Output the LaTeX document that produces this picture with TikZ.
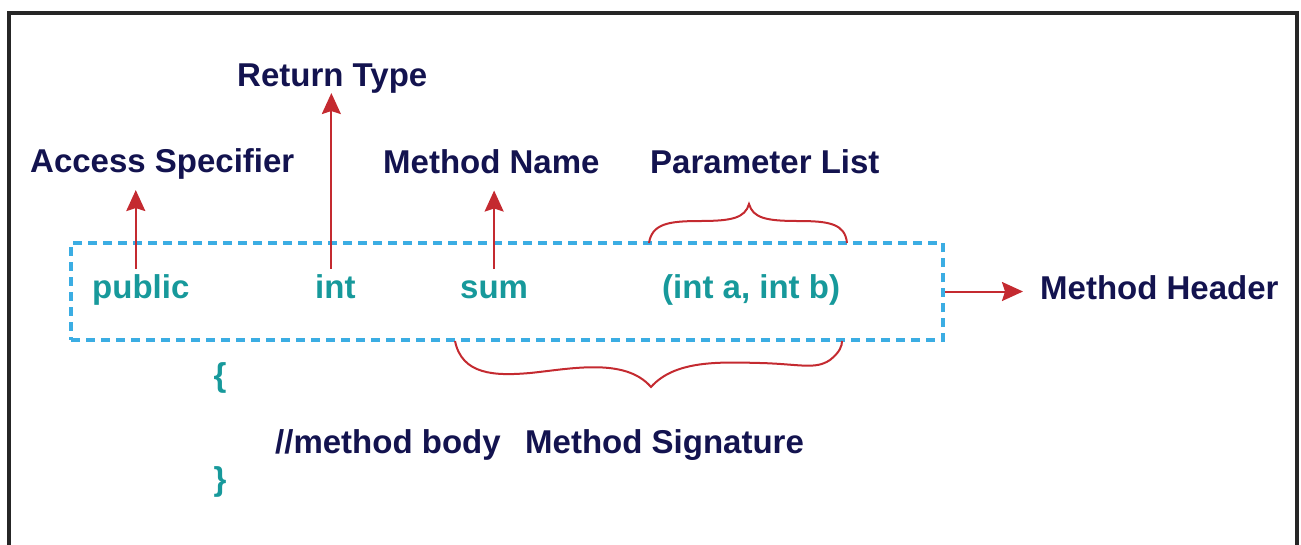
\documentclass[tikz,border=0pt]{standalone}
\usepackage{fontspec}
\setmainfont{Liberation Sans}
\usetikzlibrary{arrows.meta,calc}
\definecolor{navy}{HTML}{13134F}
\definecolor{tealc}{HTML}{17999B}
\definecolor{redc}{HTML}{C42A30}
\definecolor{dashblue}{HTML}{3BADE3}
\tikzset{
  lbl/.style={inner sep=0pt, anchor=base west, text=navy, font=\fontsize{33}{36}\selectfont\bfseries},
  code/.style={inner sep=0pt, anchor=base west, text=tealc, font=\fontsize{33}{36}\selectfont\bfseries},
  arr/.style={draw=redc, line width=2pt, -{Stealth[length=21pt,width=19pt,inset=3pt]}},
  bracec/.style={draw=redc, line width=2pt},
}
\begin{document}
\begin{tikzpicture}[x=1pt,y=-1pt]
\useasboundingbox (0,0) rectangle (1301,544);
% outer frame
\draw[line width=4pt, black!85] (9,546) -- (9,13) -- (1297,13) -- (1297,546);
% dashed header box
\node[draw=dashblue, line width=4pt, dash pattern=on 9pt off 6pt, minimum width=872pt, minimum height=97pt, inner sep=0pt] (box) at (507,291.5) {};
% code texts
\node[code] (pub) at (92,298) {public};
\node[code] (int) at (315,298) {int};
\node[code] (sum) at (460,298) {sum};
\node[code] (par) at (662,298) {(int a, int b)};
\node[code, anchor=center] (lb) at (220,378) {\{};
\node[code, anchor=center] (rb) at (220,482) {\}};
% labels
\node[lbl] (ret) at (237,86) {Return Type};
\node[lbl] (acc) at (30,172) {Access Specifier};
\node[lbl] (mn) at (383,173) {Method Name};
\node[lbl] (pl) at (650,173) {Parameter List};
\node[lbl] (mh) at (1040,299) {Method Header};
\node[lbl] (mb) at (275,453) {//method body};
\node[lbl] (ms) at (525,453) {Method Signature};
% arrows
\draw[arr, shorten <=5pt, shorten >=11pt] ($(pub.north)+(-5,0)$) -- ($(pub.north |- acc.south)+(-5,0)$);
\draw[arr, shorten <=5pt] ($(int.north)+(-4,0)$) -- ($(int.north |- ret.south)+(-4,0)$);
\draw[arr, shorten <=11pt, shorten >=17pt] (sum.north) -- (sum.north |- mn.south);
\draw[arr, shorten >=17pt] (box.east) -- (box.east -| mh.west);
% top brace (parameter list)
\draw[bracec] (649,243) .. controls (652,224) and (668,221) .. (700,221)
  .. controls (732,221) and (745,218) .. (749,204)
  .. controls (753,218) and (766,221) .. (798,221)
  .. controls (830,221) and (845,224) .. (847,243);
% bottom brace (method signature)
\draw[bracec] (455,341) .. controls (462,375) and (495,376) .. (530,373)
  .. controls (570,369) and (625,357) .. (651,387)
  .. controls (675,360) and (720,362) .. (760,363)
  .. controls (800,364) and (815,370) .. (830,360)
  .. controls (840,352) and (842,346) .. (842,341);
\end{tikzpicture}
\end{document}
